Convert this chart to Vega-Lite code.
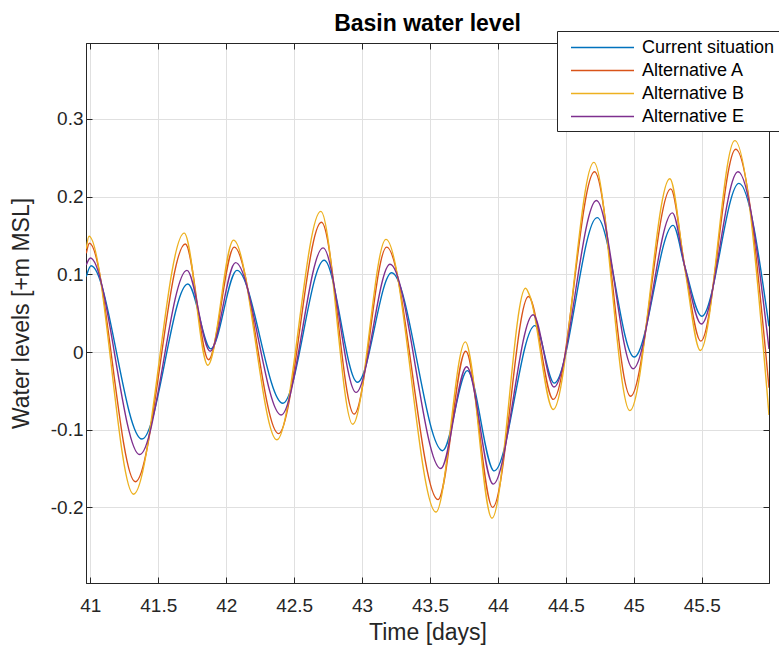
{
  "$schema": "https://vega.github.io/schema/vega-lite/v6.json",
  "width": 683,
  "height": 540,
  "autosize": {"type": "none"},
  "padding": {"left": 86, "top": 43, "right": 10, "bottom": 63},
  "background": "white",
  "title": {"text": "Basin water level", "font": "Liberation Sans", "fontSize": 23, "fontWeight": "bold", "color": "#000000", "anchor": "middle", "offset": -5},
  "data": {"values": [
    {"t": 40.97, "level": 0.097, "series": "Current situation"},
    {"t": 41.005, "level": 0.111, "series": "Current situation"},
    {"t": 41.38, "level": -0.112, "series": "Current situation"},
    {"t": 41.718, "level": 0.0875, "series": "Current situation"},
    {"t": 41.887, "level": 0.004, "series": "Current situation"},
    {"t": 42.079, "level": 0.105, "series": "Current situation"},
    {"t": 42.417, "level": -0.066, "series": "Current situation"},
    {"t": 42.721, "level": 0.118, "series": "Current situation"},
    {"t": 42.966, "level": -0.039, "series": "Current situation"},
    {"t": 43.218, "level": 0.102, "series": "Current situation"},
    {"t": 43.593, "level": -0.127, "series": "Current situation"},
    {"t": 43.775, "level": -0.024, "series": "Current situation"},
    {"t": 43.973, "level": -0.153, "series": "Current situation"},
    {"t": 44.272, "level": 0.034, "series": "Current situation"},
    {"t": 44.414, "level": -0.04, "series": "Current situation"},
    {"t": 44.73, "level": 0.173, "series": "Current situation"},
    {"t": 45.003, "level": -0.0065, "series": "Current situation"},
    {"t": 45.289, "level": 0.163, "series": "Current situation"},
    {"t": 45.375, "level": 0.11, "series": "Current situation"},
    {"t": 45.5, "level": 0.046, "series": "Current situation"},
    {"t": 45.774, "level": 0.217, "series": "Current situation"},
    {"t": 45.995, "level": 0.033, "series": "Current situation"},

    {"t": 40.97, "level": 0.127, "series": "Alternative A"},
    {"t": 40.993, "level": 0.14, "series": "Alternative A"},
    {"t": 41.331, "level": -0.167, "series": "Alternative A"},
    {"t": 41.699, "level": 0.139, "series": "Alternative A"},
    {"t": 41.87, "level": -0.01, "series": "Alternative A"},
    {"t": 42.059, "level": 0.135, "series": "Alternative A"},
    {"t": 42.385, "level": -0.105, "series": "Alternative A"},
    {"t": 42.701, "level": 0.167, "series": "Alternative A"},
    {"t": 42.941, "level": -0.08, "series": "Alternative A"},
    {"t": 43.181, "level": 0.135, "series": "Alternative A"},
    {"t": 43.559, "level": -0.19, "series": "Alternative A"},
    {"t": 43.763, "level": 0.001, "series": "Alternative A"},
    {"t": 43.961, "level": -0.2, "series": "Alternative A"},
    {"t": 44.225, "level": 0.0715, "series": "Alternative A"},
    {"t": 44.407, "level": -0.061, "series": "Alternative A"},
    {"t": 44.711, "level": 0.232, "series": "Alternative A"},
    {"t": 44.976, "level": -0.057, "series": "Alternative A"},
    {"t": 45.272, "level": 0.21, "series": "Alternative A"},
    {"t": 45.375, "level": 0.11, "series": "Alternative A"},
    {"t": 45.493, "level": 0.014, "series": "Alternative A"},
    {"t": 45.75, "level": 0.261, "series": "Alternative A"},
    {"t": 45.995, "level": -0.046, "series": "Alternative A"},

    {"t": 40.97, "level": 0.133, "series": "Alternative B"},
    {"t": 40.99, "level": 0.149, "series": "Alternative B"},
    {"t": 41.318, "level": -0.183, "series": "Alternative B"},
    {"t": 41.691, "level": 0.153, "series": "Alternative B"},
    {"t": 41.865, "level": -0.017, "series": "Alternative B"},
    {"t": 42.054, "level": 0.144, "series": "Alternative B"},
    {"t": 42.373, "level": -0.113, "series": "Alternative B"},
    {"t": 42.696, "level": 0.181, "series": "Alternative B"},
    {"t": 42.931, "level": -0.093, "series": "Alternative B"},
    {"t": 43.176, "level": 0.145, "series": "Alternative B"},
    {"t": 43.544, "level": -0.206, "series": "Alternative B"},
    {"t": 43.76, "level": 0.013, "series": "Alternative B"},
    {"t": 43.956, "level": -0.214, "series": "Alternative B"},
    {"t": 44.203, "level": 0.082, "series": "Alternative B"},
    {"t": 44.235, "level": 0.072, "series": "Alternative B"},
    {"t": 44.407, "level": -0.074, "series": "Alternative B"},
    {"t": 44.706, "level": 0.244, "series": "Alternative B"},
    {"t": 44.971, "level": -0.0755, "series": "Alternative B"},
    {"t": 45.265, "level": 0.223, "series": "Alternative B"},
    {"t": 45.375, "level": 0.108, "series": "Alternative B"},
    {"t": 45.49, "level": 0.002, "series": "Alternative B"},
    {"t": 45.743, "level": 0.272, "series": "Alternative B"},
    {"t": 45.995, "level": -0.081, "series": "Alternative B"},

    {"t": 40.97, "level": 0.112, "series": "Alternative E"},
    {"t": 41.0, "level": 0.121, "series": "Alternative E"},
    {"t": 41.363, "level": -0.132, "series": "Alternative E"},
    {"t": 41.711, "level": 0.105, "series": "Alternative E"},
    {"t": 41.882, "level": 0.001, "series": "Alternative E"},
    {"t": 42.069, "level": 0.115, "series": "Alternative E"},
    {"t": 42.404, "level": -0.081, "series": "Alternative E"},
    {"t": 42.713, "level": 0.134, "series": "Alternative E"},
    {"t": 42.956, "level": -0.052, "series": "Alternative E"},
    {"t": 43.206, "level": 0.113, "series": "Alternative E"},
    {"t": 43.579, "level": -0.15, "series": "Alternative E"},
    {"t": 43.77, "level": -0.019, "series": "Alternative E"},
    {"t": 43.965, "level": -0.17, "series": "Alternative E"},
    {"t": 44.259, "level": 0.048, "series": "Alternative E"},
    {"t": 44.412, "level": -0.045, "series": "Alternative E"},
    {"t": 44.725, "level": 0.195, "series": "Alternative E"},
    {"t": 44.995, "level": -0.0215, "series": "Alternative E"},
    {"t": 45.284, "level": 0.179, "series": "Alternative E"},
    {"t": 45.375, "level": 0.11, "series": "Alternative E"},
    {"t": 45.497, "level": 0.036, "series": "Alternative E"},
    {"t": 45.767, "level": 0.232, "series": "Alternative E"},
    {"t": 45.995, "level": 0.004, "series": "Alternative E"}
  ]},
  "layer": [
    {
      "mark": {"type": "line", "interpolate": "monotone", "strokeWidth": 1.4, "clip": true},
      "encoding": {
        "x": {"field": "t", "type": "quantitative",
          "scale": {"domain": [40.968, 45.995], "nice": false, "zero": false},
          "axis": {"orient": "bottom", "values": [41, 41.5, 42, 42.5, 43, 43.5, 44, 44.5, 45, 45.5], "labelExpr": "'' + datum.value", "title": "Time [days]", "grid": true, "labelPadding": 19, "titlePadding": 6}},
        "y": {"field": "level", "type": "quantitative",
          "scale": {"domain": [-0.2973, 0.3977], "nice": false, "zero": false},
          "axis": {"orient": "left", "values": [-0.2, -0.1, 0, 0.1, 0.2, 0.3], "labelExpr": "'' + datum.value", "title": "Water levels [+m MSL]", "grid": true, "labelPadding": 9, "titlePadding": 17}},
        "color": {"field": "series", "type": "nominal",
          "scale": {"domain": ["Current situation", "Alternative A", "Alternative B", "Alternative E"], "range": ["#0072BD", "#D95319", "#EDB120", "#7E2F8E"]},
          "legend": {"title": null, "orient": "none", "legendX": 471, "legendY": -12,
            "symbolType": "M-1,0H5", "symbolSize": 441, "symbolStrokeWidth": 1.5, "symbolOffset": 8,
            "labelOffset": 49, "labelFontSize": 18, "labelFont": "Liberation Sans", "labelColor": "#000000",
            "padding": 5, "rowPadding": 2, "strokeColor": "#262626", "fillColor": "white", "cornerRadius": 0}}
      }
    },
    {
      "mark": {"type": "point", "opacity": 0},
      "encoding": {
        "x": {"field": "t", "type": "quantitative",
          "axis": {"orient": "top", "values": [41, 41.5, 42, 42.5, 43, 43.5, 44, 44.5, 45, 45.5], "labels": false, "title": null, "grid": false}},
        "y": {"field": "level", "type": "quantitative",
          "axis": {"orient": "right", "values": [-0.2, -0.1, 0, 0.1, 0.2, 0.3], "labels": false, "title": null, "grid": false}}
      }
    }
  ],
  "resolve": {"axis": {"x": "independent", "y": "independent"}},
  "config": {
    "view": {"stroke": "#262626", "strokeWidth": 1},
    "axis": {
      "domainColor": "#262626", "domainWidth": 1,
      "tickColor": "#262626", "tickSize": -6, "tickWidth": 1,
      "gridColor": "#e0e0e0", "gridWidth": 1,
      "labelFont": "Liberation Sans", "labelFontSize": 19, "labelColor": "#262626",
      "titleFont": "Liberation Sans", "titleFontSize": 23, "titleFontWeight": "normal", "titleColor": "#262626"
    }
  }
}
